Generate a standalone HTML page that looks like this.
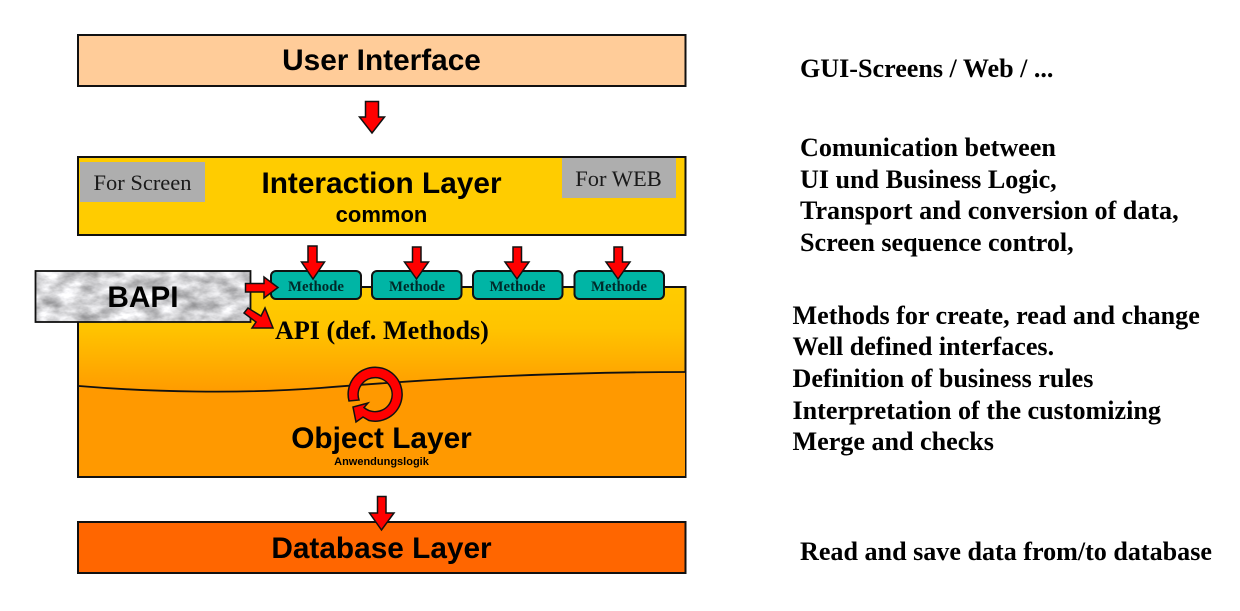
<!DOCTYPE html>
<html><head><meta charset="utf-8">
<style>
html,body{margin:0;padding:0;background:#fff;width:1240px;height:611px;overflow:hidden}
svg{display:block;filter:blur(0.35px)}
.s{font-family:"Liberation Sans",sans-serif;font-weight:bold;fill:#000;text-anchor:middle}
.r{font-family:"Liberation Serif",serif;font-weight:bold;fill:#000;font-size:26.1px}
.m{font-family:"Liberation Serif",serif;font-weight:bold;fill:#002a2a;font-size:14.8px;text-anchor:middle}
.g{font-family:"Liberation Serif",serif;fill:#1a1a1a;font-size:22.5px;text-anchor:middle}
.a{fill:#ff0000;stroke:#111;stroke-width:1.5;stroke-linejoin:miter}
</style></head><body>
<svg width="1240" height="611" viewBox="0 0 1240 611" xmlns="http://www.w3.org/2000/svg">
<defs>
<linearGradient id="gr" x1="0" y1="287" x2="0" y2="390" gradientUnits="userSpaceOnUse">
<stop offset="0" stop-color="#ffcc00"/><stop offset="0.4" stop-color="#ffc400"/><stop offset="1" stop-color="#ff9c00"/>
</linearGradient>
<filter id="marble" x="0" y="0" width="100%" height="100%" color-interpolation-filters="sRGB">
<feTurbulence type="fractalNoise" baseFrequency="0.05 0.09" numOctaves="4" seed="7"/>
<feColorMatrix type="matrix" values="0.65 0 0 0 0.5  0.65 0 0 0 0.5  0.65 0 0 0 0.51  0 0 0 0 1"/>
</filter>
</defs>

<rect x="78" y="35" width="607.500" height="51" fill="#ffcc99" stroke="#111" stroke-width="2"/>
<text class="s" x="381.500" y="70" font-size="29.800">User Interface</text>

<polygon class="a" points="365.500,101.500 378.500,101.500 378.500,117 384.500,117 372,133 359.500,117 365.500,117"/>

<rect x="78" y="157" width="607.500" height="78" fill="#ffcc00" stroke="#111" stroke-width="2"/>
<rect x="80" y="162" width="125" height="40" fill="#aeaeae"/>
<rect x="562" y="158" width="114" height="40" fill="#aeaeae"/>
<text class="g" x="142.500" y="190">For Screen</text>
<text class="g" x="618.500" y="186">For WEB</text>
<text class="s" x="381.500" y="193" font-size="29.800">Interaction Layer</text>
<text class="s" x="381.500" y="222" font-size="22">common</text>

<rect x="78" y="287" width="607.500" height="190" fill="url(#gr)" stroke="#111" stroke-width="2"/>
<path d="M79 386 C150 392 240 394 320 388 C420 380 540 372 685 372 L685 476 L79 476 Z" fill="#ff9900"/>
<path d="M79 386 C150 392 240 394 320 388 C420 380 540 372 685 372" fill="none" stroke="#111" stroke-width="1.800"/>

<rect x="35.500" y="271" width="215" height="51" fill="#ccc"/>
<rect x="35.500" y="271" width="215" height="51" filter="url(#marble)"/>
<rect x="35.500" y="271" width="215" height="51" fill="none" stroke="#111" stroke-width="1.800"/>
<text class="s" x="143" y="307" font-size="29.800">BAPI</text>

<g fill="#00b5a5" stroke="#111" stroke-width="2">
<rect x="271" y="271" width="90" height="28" rx="5"/>
<rect x="372" y="271" width="89.500" height="28" rx="5"/>
<rect x="473" y="271" width="89.500" height="28" rx="5"/>
<rect x="574.500" y="271" width="89.500" height="28" rx="5"/>
</g>
<text class="m" x="316" y="291">Methode</text>
<text class="m" x="417" y="291">Methode</text>
<text class="m" x="517.500" y="291">Methode</text>
<text class="m" x="619" y="291">Methode</text>

<polygon class="a" points="308,246 317,246 317,262 324.500,262 313,279 301.500,262 308,262"/>
<polygon class="a" points="412.500,247 421,247 421,262 428.500,262 416.500,279 404.500,262 412.500,262"/>
<polygon class="a" points="513,247 521.500,247 521.500,262 529,262 517,279 505,262 513,262"/>
<polygon class="a" points="614,247 622.500,247 622.500,262 630,262 618,279 606,262 614,262"/>

<polygon class="a" points="245.500,283.500 264,283.500 264,277 278,287.500 264,298 264,292 245.500,292"/>
<polygon class="a" points="248,308 261,316 265,308 273,328 252,328 256,322 244,313"/>

<text class="r" x="275" y="339">API (def. Methods)</text>

<path class="a" stroke-width="1.800" d="M349 401 A27 27 0 1 1 369 420.500 L363 417 L356 422 L353 407 L368 403 L364 407.500 A17 17 0 1 0 359 400 Z"/>

<text class="s" x="381.500" y="448" font-size="29.800">Object Layer</text>
<text class="s" x="381.500" y="465" font-size="11">Anwendungslogik</text>

<rect x="78" y="522" width="607.500" height="51" fill="#ff6600" stroke="#111" stroke-width="2"/>
<text class="s" x="381.500" y="558" font-size="29.800">Database Layer</text>
<polygon class="a" points="377.500,496.500 386,496.500 386,513 394,513 381.500,530 369.500,513 377.500,513"/>

<text class="r" x="800" y="77">GUI-Screens / Web / ...</text>
<text class="r" x="800" y="156">Comunication between</text>
<text class="r" x="800" y="188">UI und Business Logic,</text>
<text class="r" x="800" y="219">Transport and conversion of data,</text>
<text class="r" x="800" y="251">Screen sequence control,</text>
<text class="r" x="792.500" y="324">Methods for create, read and change</text>
<text class="r" x="792.500" y="355">Well defined interfaces.</text>
<text class="r" x="792.500" y="387">Definition of business rules</text>
<text class="r" x="792.500" y="419">Interpretation of the customizing</text>
<text class="r" x="792.500" y="450">Merge and checks</text>
<text class="r" x="800" y="560">Read and save data from/to database</text>
</svg>
</body></html>
